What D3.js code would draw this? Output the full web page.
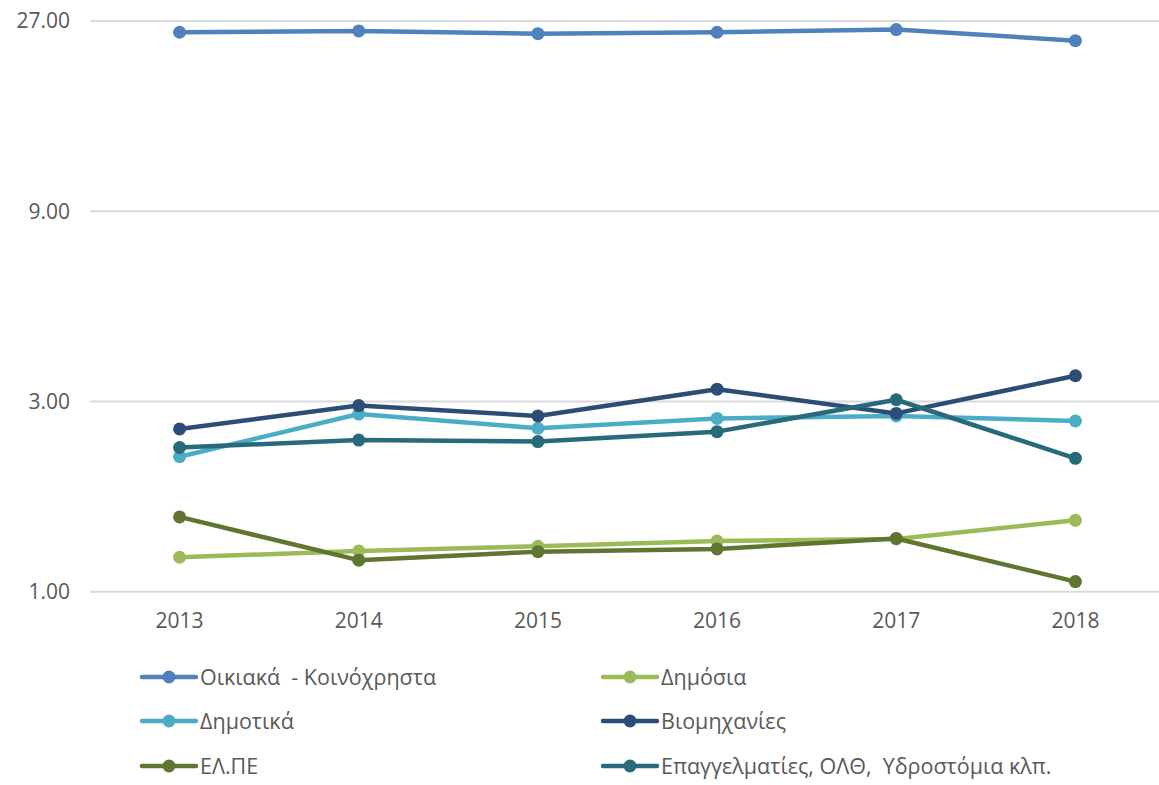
<!DOCTYPE html>
<html lang="el">
<head>
    <meta charset="UTF-8">
    <title>Chart</title>
    <script src="https://d3js.org/d3.v7.min.js"></script>
    <style>
        body, html {
            margin: 0;
            background-color: #ffffff;
            font-family: 'Open Sans', sans-serif;
        }
        svg text {
            fill: #595959;
        }
    </style>
</head>
<body>
<svg id="chart" width="1159" height="785"></svg>

<script>
    // categories and values
    const years = ["2013", "2014", "2015", "2016", "2017", "2018"];
    const yTicks = [1, 3, 9, 27];

    const seriesNames = [
        "Οικιακά  - Κοινόχρηστα",
        "Δημόσια",
        "Δημοτικά",
        "Βιομηχανίες",
        "ΕΛ.ΠΕ",
        "Επαγγελματίες, ΟΛΘ,  Υδροστόμια κλπ."
    ];
    const oikiaka = [25.3, 25.5, 25.1, 25.3, 25.7, 24.1];
    const dimosia = [1.22, 1.265, 1.30, 1.34, 1.356, 1.51];
    const dimotika = [2.18, 2.79, 2.57, 2.72, 2.76, 2.68];
    const viomixanies = [2.56, 2.93, 2.76, 3.22, 2.80, 3.48];
    const elpe = [1.54, 1.20, 1.26, 1.28, 1.36, 1.06];
    const epaggelmaties = [2.30, 2.40, 2.38, 2.52, 3.03, 2.16];

    const seriesValues = [oikiaka, dimosia, dimotika, viomixanies, elpe, epaggelmaties];
    const colors = ["#4f81bd", "#9bbb59", "#4bacc6", "#2c4d75", "#5f7530", "#276a7c"];

    const svg = d3.select("#chart");

    const x = d3.scaleBand()
        .domain(years)
        .range([90, 1165]);

    const y = d3.scaleLog()
        .base(3)
        .domain([1, 27])
        .range([591.7, 21]);

    // gridlines
    svg.append("g")
        .selectAll("line")
        .data(yTicks)
        .join("line")
        .attr("x1", 90)
        .attr("x2", 1159)
        .attr("y1", d => y(d))
        .attr("y2", d => y(d))
        .attr("stroke", "#d9d9d9")
        .attr("stroke-width", 2);

    // y axis labels
    svg.append("g")
        .selectAll("text")
        .data(yTicks)
        .join("text")
        .attr("x", 70)
        .attr("y", d => y(d))
        .attr("dy", "0.35em")
        .attr("text-anchor", "end")
        .style("font-size", "21px")
        .text(d => d3.format(".2f")(d));

    // x axis labels
    svg.append("g")
        .selectAll("text")
        .data(years)
        .join("text")
        .attr("x", d => x(d) + x.bandwidth() / 2)
        .attr("y", 628)
        .attr("text-anchor", "middle")
        .style("font-size", "21px")
        .text(d => d);

    const line = d3.line()
        .x((d, i) => x(years[i]) + x.bandwidth() / 2)
        .y(d => y(d));

    // series
    seriesValues.forEach((vals, k) => {
        const g = svg.append("g");
        g.append("path")
            .datum(vals)
            .attr("d", line)
            .attr("fill", "none")
            .attr("stroke", colors[k])
            .attr("stroke-width", 4.5)
            .attr("stroke-linejoin", "round")
            .attr("stroke-linecap", "round");
        g.selectAll("circle")
            .data(vals)
            .join("circle")
            .attr("cx", (d, i) => x(years[i]) + x.bandwidth() / 2)
            .attr("cy", d => y(d))
            .attr("r", 6.5)
            .attr("fill", colors[k]);
    });

    // legend, two columns
    const legendCols = [142, 603];
    const legendRows = [677, 721, 766];

    const legend = svg.append("g")
        .selectAll("g")
        .data(seriesNames)
        .join("g")
        .attr("transform", (d, i) => `translate(${legendCols[i % 2]},${legendRows[Math.floor(i / 2)]})`);

    legend.append("line")
        .attr("x1", 0)
        .attr("x2", 54)
        .attr("stroke", (d, i) => colors[i])
        .attr("stroke-width", 4.5)
        .attr("stroke-linecap", "round");

    legend.append("circle")
        .attr("cx", 27)
        .attr("r", 6.5)
        .attr("fill", (d, i) => colors[i]);

    legend.append("text")
        .attr("x", 58)
        .attr("dy", "0.35em")
        .style("font-size", "21.5px")
        .style("white-space", "pre")
        .text(d => d);
</script>

</body>
</html>
